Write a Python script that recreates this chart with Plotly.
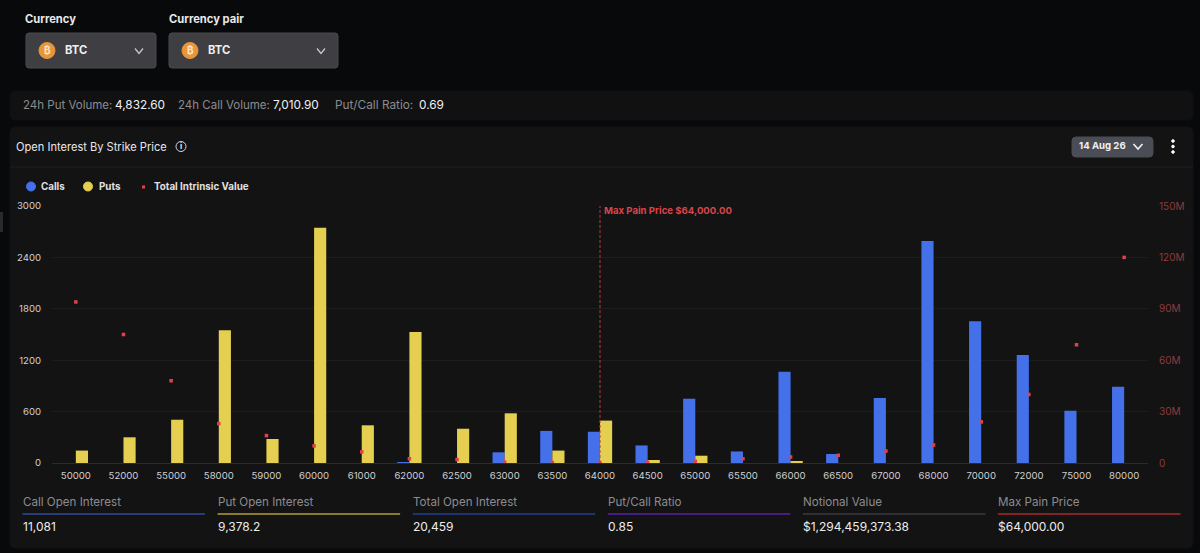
import plotly.graph_objects as go

W, H = 1200, 553

strikes = ['50000', '52000', '55000', '58000', '59000', '60000', '61000', '62000',
           '62500', '63000', '63500', '64000', '64500', '65000', '65500', '66000',
           '66500', '67000', '68000', '70000', '72000', '75000', '80000']
calls = [0, 0, 0, 0, 0, 0, 0, 10, 0, 125, 375, 365, 205, 750, 135, 1065, 105, 760,
         2590, 1655, 1260, 610, 890]
puts = [145, 300, 505, 1550, 280, 2745, 440, 1530, 400, 580, 145, 495, 35, 85, 0, 15,
        0, 0, 0, 0, 0, 0, 0]
intrinsic = [94e6, 75e6, 48e6, 23e6, 16e6, 10e6, 6.5e6, 2.5e6, 2e6, 0.5e6, 0.3e6, 0,
             0.4e6, 1e6, 2.5e6, 3.5e6, 4.5e6, 7e6, 10.5e6, 24e6, 40e6, 69e6, 120e6]

oi_ticks = [0, 600, 1200, 1800, 2400, 3000]
iv_ticks = [0, 30e6, 60e6, 90e6, 120e6, 150e6]

stat_labels = ['Call Open Interest', 'Put Open Interest', 'Total Open Interest',
               'Put/Call Ratio', 'Notional Value', 'Max Pain Price']
stat_values = ['11,081', '9,378.2', '20,459', '0.85', '$1,294,459,373.38', '$64,000.00']
stat_colors = ['#2f4d9c', '#b59c35', '#22408f', '#5a22a8', '#3a3a40', '#a82a2a']

FONT = 'Inter'
BLUE = '#4470ea'
YELLOW = '#e5cf50'
RED = '#e0424a'

shapes = []
notes = []


# everything outside the plot is placed in screenshot pixels
def px(x):
    return x / W


def py(y):
    return 1 - y / H


def rounded(x0, y0, x1, y1, r, fill, line=None):
    path = (f'M {px(x0 + r)} {py(y0)} L {px(x1 - r)} {py(y0)} Q {px(x1)} {py(y0)} {px(x1)} {py(y0 + r)} '
            f'L {px(x1)} {py(y1 - r)} Q {px(x1)} {py(y1)} {px(x1 - r)} {py(y1)} '
            f'L {px(x0 + r)} {py(y1)} Q {px(x0)} {py(y1)} {px(x0)} {py(y1 - r)} '
            f'L {px(x0)} {py(y0 + r)} Q {px(x0)} {py(y0)} {px(x0 + r)} {py(y0)} Z')
    shapes.append(dict(type='path', path=path, xref='paper', yref='paper', fillcolor=fill,
                       line=dict(color=line or fill, width=1), layer='below'))


def hline(x0, x1, y, color, width=1):
    shapes.append(dict(type='line', xref='paper', yref='paper', x0=px(x0), x1=px(x1), y0=py(y), y1=py(y),
                       line=dict(color=color, width=width), layer='below'))


def circle(cx, cy, r, fill, line=None):
    shapes.append(dict(type='circle', xref='paper', yref='paper', x0=px(cx - r), x1=px(cx + r),
                       y0=py(cy - r), y1=py(cy + r), fillcolor=fill,
                       line=dict(color=line or fill, width=1)))


def chevron(cx, cy, hw, hh, color, width=1.3):
    shapes.append(dict(type='path', xref='paper', yref='paper',
                       path=f'M {px(cx - hw)} {py(cy - hh)} L {px(cx)} {py(cy + hh)} L {px(cx + hw)} {py(cy - hh)}',
                       line=dict(color=color, width=width)))


def text(x, y, s, size=12, color='#e6e6e6', bold=False, anchor='left'):
    # annotations carry about 2px of padding on the left
    dx = -2 if anchor == 'left' else 0
    notes.append(dict(xref='paper', yref='paper', x=px(x + dx), y=py(y), text=f'<b>{s}</b>' if bold else s,
                      showarrow=False, xanchor=anchor, yanchor='middle',
                      font=dict(family=FONT, size=size, color=color)))


# panels
rounded(10, 91, 1193, 120, 6, '#111112')
rounded(10, 127, 1193, 548, 6, '#131314')
hline(10, 1193, 167, '#1e1e20')
shapes.append(dict(type='rect', xref='paper', yref='paper', x0=0, x1=px(3), y0=py(232), y1=py(212),
                   fillcolor='#2a2a2c', line=dict(width=0), layer='below'))

# selectors
text(25, 19, 'Currency', 11.2, '#e8e8e8', True)
text(169, 19, 'Currency pair', 11.2, '#e8e8e8', True)
for x0, x1 in [(26, 156), (169, 338)]:
    rounded(x0, 33, x1, 68, 3, '#3f3f43', '#4a4a4e')
    circle(x0 + 21, 50.5, 8, '#e8963a')
    text(x0 + 21, 50.5, '₿', 10, '#fbe6cc', True, 'center')
    text(x0 + 39, 50.5, 'BTC', 11.2, '#f0f0f0', True)
    chevron(x1 - 17, 51, 4, 2.5, '#c8c8c8')

# volume strip
text(23, 105, '24h Put Volume:', 11.5, '#8c8c90')
text(115, 105, '4,832.60', 11.8, '#f2f2f2')
text(178, 105, '24h Call Volume:', 11.5, '#8c8c90')
text(273, 105, '7,010.90', 11.8, '#f2f2f2')
text(335, 105, 'Put/Call Ratio:', 11.8, '#8c8c90')
text(419, 105, '0.69', 11.8, '#f2f2f2')

# chart header
text(16, 147, 'Open Interest By Strike Price', 11.1, '#e8e8e8')
circle(181, 146.5, 5, 'rgba(0,0,0,0)', '#d8d8d8')
text(181, 146.5, 'i', 8, '#e8e8e8', True, 'center')
rounded(1072, 137, 1153, 157, 4, '#4a4d55')
text(1079, 146.5, '14 Aug 26', 9.6, '#f0f0f0', True)
chevron(1138, 146.5, 4.5, 2.5, '#f0f0f0', 1.6)
for ky in (141, 146.5, 152):
    circle(1173, ky, 1.3, '#ffffff')

# legend
circle(31, 186.5, 4.5, BLUE)
text(41, 187, 'Calls', 9.8, '#e0e0e0', True)
circle(88, 186.5, 4.5, YELLOW)
text(99, 187, 'Puts', 9.8, '#e0e0e0', True)
shapes.append(dict(type='rect', xref='paper', yref='paper', x0=px(142), x1=px(145), y0=py(188.5), y1=py(185.5),
                   fillcolor=RED, line=dict(width=0)))
text(154, 187, 'Total Intrinsic Value', 9.8, '#e0e0e0', True)

# stats under the chart
for i, (lab, val, col) in enumerate(zip(stat_labels, stat_values, stat_colors)):
    x0 = 22.5 + i * 195.1
    text(x0, 501.5, lab, 11.6, '#8c8c90')
    hline(x0, x0 + 182.5, 514, col, 1.5)
    text(x0, 526, val, 12, '#ededed')

# max pain marker, numeric x on a category axis is the category's index
pain_idx = strikes.index('64000')
shapes.append(dict(type='line', xref='x', yref='y', x0=pain_idx, x1=pain_idx, y0=0, y1=3000,
                   line=dict(color='#b8383e', width=1, dash='3px,2px')))
notes.append(dict(xref='x', yref='y', x=pain_idx, y=2950, text='<b>Max Pain Price $64,000.00</b>',
                  showarrow=False, xanchor='left', yanchor='middle', xshift=2,
                  font=dict(family=FONT, size=9.6, color='#d8454b')))

fig = go.Figure()
fig.add_trace(go.Bar(x=strikes, y=calls, name='Calls', marker=dict(color=BLUE, line=dict(width=0))))
fig.add_trace(go.Bar(x=strikes, y=puts, name='Puts', marker=dict(color=YELLOW, line=dict(width=0))))
fig.add_trace(go.Scatter(x=strikes, y=intrinsic, name='Total Intrinsic Value', mode='markers', yaxis='y2',
                         marker=dict(symbol='square', size=3.5, color=RED, line=dict(width=0))))

fig.update_layout(
    width=W, height=H,
    margin=dict(l=0, r=0, t=0, b=0),
    paper_bgcolor='#08090b',
    plot_bgcolor='rgba(0,0,0,0)',
    showlegend=False,
    barmode='group',
    bargap=0.49,
    bargroupgap=0,
    shapes=shapes,
    annotations=notes,
    font=dict(family=FONT),
    xaxis=dict(type='category', categoryorder='array', categoryarray=strikes, automargin=False,
               range=[-0.5, len(strikes) - 0.5],
               domain=[52 / W, 1148 / W], showgrid=False, showline=True, linecolor='#2c2c2e', linewidth=1,
               ticks='', tickangle=0, ticklabelstandoff=3, tickfont=dict(size=9.6, color='#cfcfcf')),
    yaxis=dict(domain=[1 - 463 / H, 1 - 206 / H], range=[0, 3000], tickvals=oi_ticks, showgrid=True,
               automargin=False, gridcolor='#1d1d1f', gridwidth=1, zeroline=False, showline=False, ticks='',
               ticklabelstandoff=10, tickfont=dict(size=9.6, color='#cfcfcf')),
    yaxis2=dict(overlaying='y', side='right', range=[0, 150e6], tickvals=iv_ticks, tickformat='~s',
                automargin=False, showgrid=False, zeroline=False, showline=False, ticks='',
                ticklabelstandoff=10, tickfont=dict(size=10, color='#8f3a3e')),
)

fig.write_html('out.html', config=dict(displayModeBar=False), post_script="document.body.style.margin='0';")
